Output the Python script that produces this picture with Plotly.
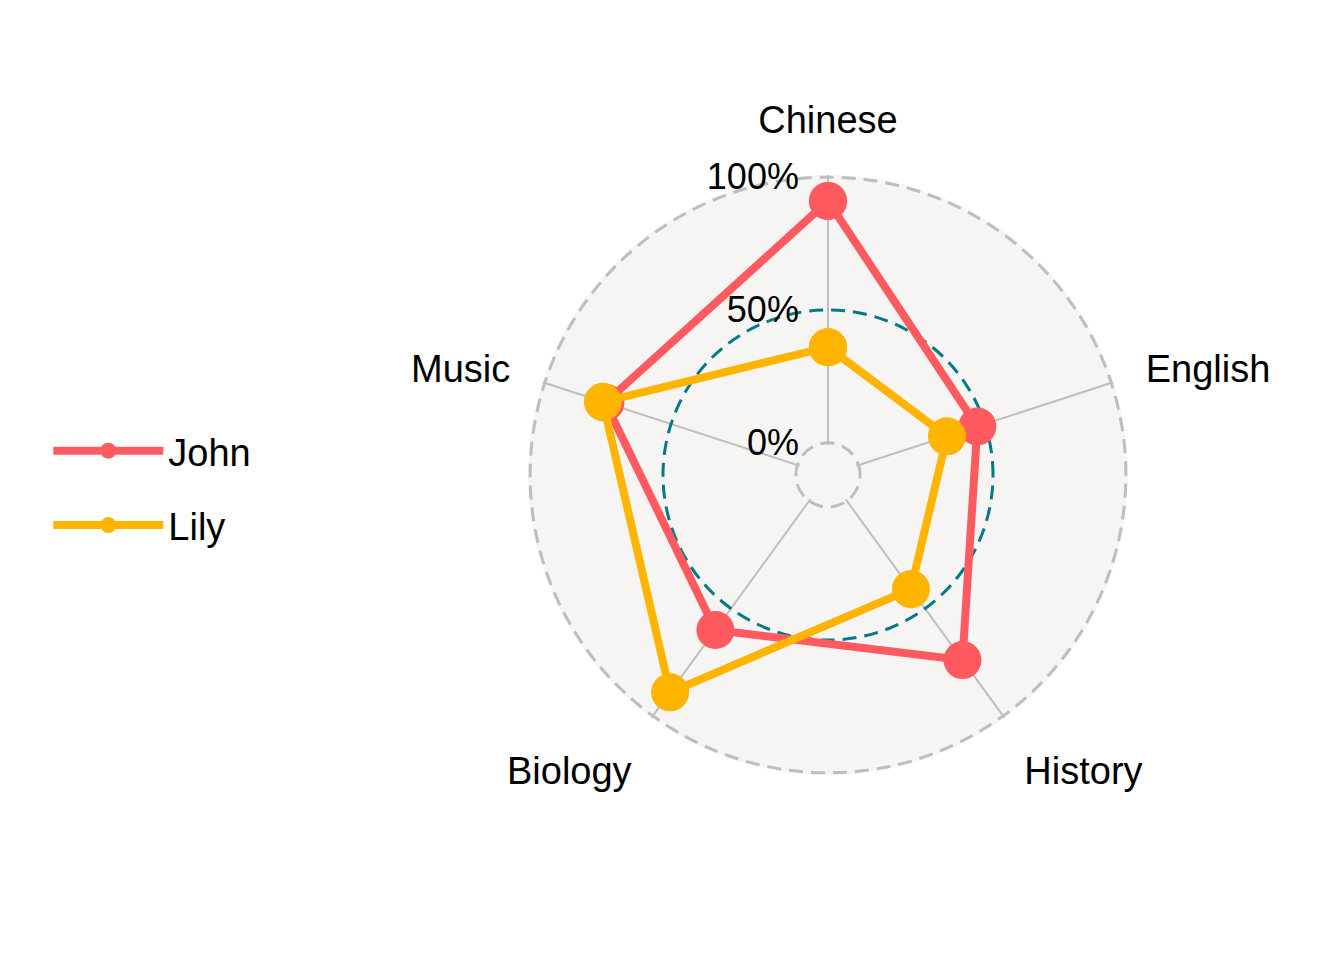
"""Radar chart of subject scores for John and Lily."""

import plotly.graph_objects as go

SUBJECTS = ["Chinese", "English", "History", "Biology", "Music"]
JOHN = [0.91, 0.47, 0.74, 0.60, 0.76]
LILY = [0.36, 0.35, 0.41, 0.89, 0.77]

OUTER_TICKS = [0, 1]
OUTER_LABELS = ["0%", "100%"]
MID_TICKS = [0.5]
MID_LABELS = ["50%"]

JOHN_COLOR = "#FF5A5F"
LILY_COLOR = "#FFB400"
GRID = "#BEBEBE"
MID_GRID = "#007A87"
PANEL = "#F6F5F3"
FONT = "Liberation Sans, Arial, sans-serif"
DASH = "14px,8px"
CLEAR = "rgba(0,0,0,0)"

# page body has an 8px margin, so the domain is shifted to compensate
DOMAIN_X = [520 / 1344, 1120 / 1344]
DOMAIN_Y = [193 / 960, 793 / 960]
# padded a little so the 0% / 100% grid circles are not clipped away
R_RANGE = [-0.008, 1.008]


def closed(vals):
    return list(vals) + list(vals[:1])


fig = go.Figure()
# empty placeholders so the background subplots get drawn
for sp in ["polar", "polar2"]:
    fig.add_trace(go.Scatterpolar(
        r=[None] * len(SUBJECTS), theta=SUBJECTS, subplot=sp,
        mode="lines", showlegend=False, hoverinfo="skip",
    ))
for name, vals, color in [("John", JOHN, JOHN_COLOR), ("Lily", LILY, LILY_COLOR)]:
    fig.add_trace(go.Scatterpolar(
        r=closed(vals),
        theta=closed(SUBJECTS),
        mode="lines+markers",
        name=name,
        legendgroup=name,
        line=dict(color=color, width=8),
        marker=dict(color=color, size=38),
        subplot="polar3",
        hoverinfo="skip",
    ))

angular_common = dict(
    direction="clockwise",
    rotation=90,
    categoryorder="array",
    categoryarray=SUBJECTS,
    type="category",
)
radial_common = dict(
    range=R_RANGE,
    angle=90,
    side="counterclockwise",
    tickangle=90,
    tickmode="array",
    showline=False,
    ticks="outside",
    ticklen=16,
    tickcolor=CLEAR,
    tickfont=dict(size=36, color="black"),
)
hidden_angular = dict(
    **angular_common,
    showgrid=False, showline=False, showticklabels=False, ticks="",
)

fig.update_layout(
    width=1344,
    height=960,
    paper_bgcolor="white",
    margin=dict(l=0, r=0, t=0, b=0),
    font=dict(family=FONT, size=36, color="black"),
    showlegend=True,
    legend=dict(
        x=0.03, y=0.5, xanchor="left", yanchor="middle",
        font=dict(size=38),
        tracegroupgap=22,
        itemwidth=110,
        bgcolor=CLEAR,
    ),
    # full disc background, including the centre hole
    polar=dict(
        domain=dict(x=DOMAIN_X, y=DOMAIN_Y),
        bgcolor=PANEL,
        hole=0,
        angularaxis=hidden_angular,
        radialaxis=dict(range=R_RANGE, visible=False),
    ),
    # grey axes, 0% / 100% circles and labels
    polar2=dict(
        domain=dict(x=DOMAIN_X, y=DOMAIN_Y),
        bgcolor=CLEAR,
        hole=0.1,
        angularaxis=dict(
            **angular_common,
            showgrid=True, gridcolor=GRID, gridwidth=2,
            showline=False,
            ticks="outside", ticklen=26, tickcolor=CLEAR,
            tickfont=dict(size=38, color="black"),
        ),
        radialaxis=dict(
            **radial_common,
            tickvals=OUTER_TICKS,
            ticktext=OUTER_LABELS,
            showgrid=True, gridcolor=GRID, gridwidth=2.5, griddash=DASH,
        ),
    ),
    # teal 50% circle and the data
    polar3=dict(
        domain=dict(x=DOMAIN_X, y=DOMAIN_Y),
        bgcolor=CLEAR,
        hole=0.1,
        angularaxis=hidden_angular,
        radialaxis=dict(
            **radial_common,
            tickvals=MID_TICKS,
            ticktext=MID_LABELS,
            showgrid=True, gridcolor=MID_GRID, gridwidth=2.5, griddash=DASH,
        ),
    ),
)

fig.write_html("out.html")
